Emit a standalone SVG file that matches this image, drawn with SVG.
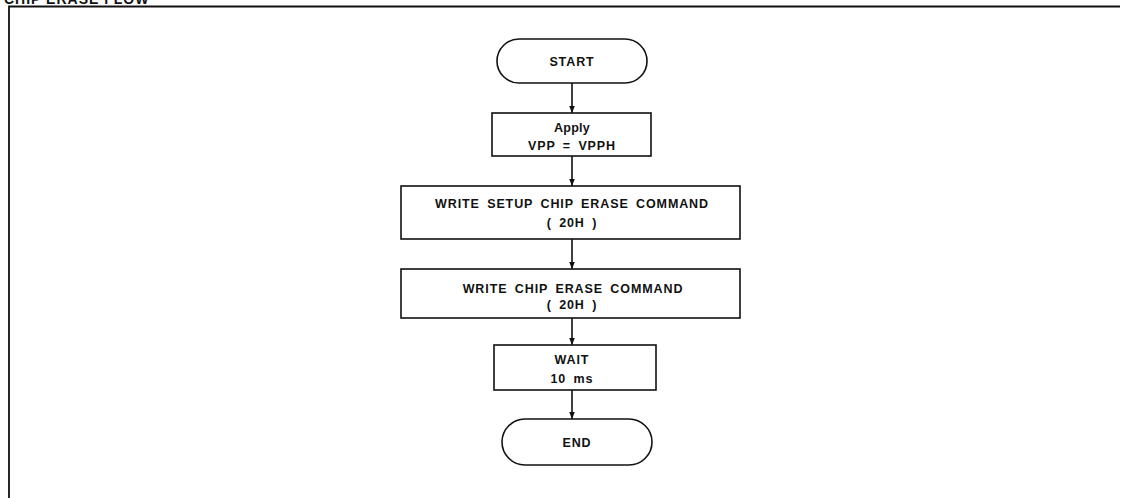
<svg xmlns="http://www.w3.org/2000/svg" width="1124" height="498" viewBox="0 0 1124 498">
<style>
.box{fill:#fff;stroke:#111;stroke-width:1.6}
.t{font-family:"Liberation Sans",Arial,sans-serif;font-weight:bold;font-size:12.5px;fill:#111;text-anchor:middle;letter-spacing:0.9px;word-spacing:3px}
.c{stroke:#111;stroke-width:1.6;fill:none}
.frame{stroke:#111;stroke-width:1.8;fill:none}
</style>
<defs>
<marker id="ah" viewBox="0 0 10 10" refX="10" refY="5" markerWidth="7" markerHeight="7" orient="auto" markerUnits="userSpaceOnUse">
<path d="M0,1 L10,5 L0,9 Z" fill="#111"/>
</marker>
</defs>
<rect width="1124" height="498" fill="#fff"/>
<text x="4" y="4" style="font-family:'Liberation Sans',Arial,sans-serif;font-weight:bold;font-size:14px;fill:#111;letter-spacing:1px">CHIP ERASE FLOW</text>
<path class="frame" d="M9,498 V6.5 H1120"/>
<g id="connectors">
<line class="c" x1="572" y1="83" x2="572" y2="113" marker-end="url(#ah)"/>
<line class="c" x1="572" y1="156" x2="572" y2="186" marker-end="url(#ah)"/>
<line class="c" x1="572" y1="239" x2="572" y2="269" marker-end="url(#ah)"/>
<line class="c" x1="572" y1="318" x2="572" y2="345" marker-end="url(#ah)"/>
<line class="c" x1="572" y1="390" x2="572" y2="419" marker-end="url(#ah)"/>
</g>
<g id="start">
<rect class="box" x="497" y="39" width="150" height="44" rx="22" ry="22"/>
<text class="t" x="572" y="66">START</text>
</g>
<g id="apply">
<rect class="box" x="492" y="113" width="159" height="43"/>
<text class="t" x="572" y="132" style="letter-spacing:0.3px">Apply</text>
<text class="t" x="572" y="150">VPP = VPPH</text>
</g>
<g id="setup">
<rect class="box" x="401" y="186" width="339" height="53"/>
<text class="t" x="572" y="207.5">WRITE SETUP CHIP ERASE COMMAND</text>
<text class="t" x="572" y="226.5">( 20H )</text>
</g>
<g id="erase">
<rect class="box" x="401" y="269" width="339" height="49"/>
<text class="t" x="573" y="292.5">WRITE CHIP ERASE COMMAND</text>
<text class="t" x="572" y="308.5">( 20H )</text>
</g>
<g id="wait">
<rect class="box" x="494" y="345" width="162" height="45"/>
<text class="t" x="572" y="364">WAIT</text>
<text class="t" x="572" y="382.5">10 ms</text>
</g>
<g id="end">
<rect class="box" x="502" y="419" width="150" height="46" rx="23" ry="23"/>
<text class="t" x="577" y="446.5">END</text>
</g>
</svg>
